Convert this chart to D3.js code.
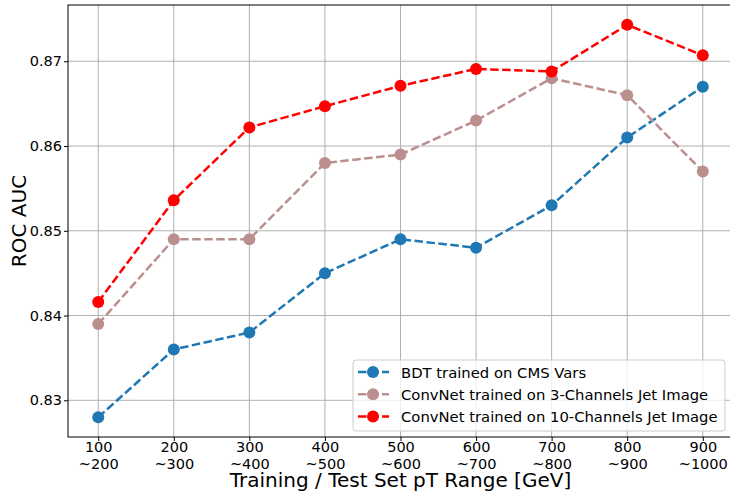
<!DOCTYPE html>
<html>
<head>
<meta charset="utf-8">
<script src="https://cdn.jsdelivr.net/npm/d3@7"></script>
<style>
  body { margin: 0; background: #fff; }
  text { font-family: "DejaVu Sans", sans-serif; }
</style>
</head>
<body>
<div id="my_dataviz"></div>
<script>
// data
var lowEdges = ["100", "200", "300", "400", "500", "600", "700", "800", "900"];
var highEdges = ["~200", "~300", "~400", "~500", "~600", "~700", "~800", "~900", "~1000"];
var bdtAuc = [0.828, 0.836, 0.838, 0.845, 0.849, 0.848, 0.853, 0.861, 0.867];
var conv3Auc = [0.839, 0.849, 0.849, 0.858, 0.859, 0.863, 0.868, 0.866, 0.857];
var conv10Auc = [0.8416, 0.8536, 0.8622, 0.8647, 0.8671, 0.8691, 0.8688, 0.8743, 0.8707];
var yTicks = [0.83, 0.84, 0.85, 0.86, 0.87];

var series = [
  {name: "BDT trained on CMS Vars", values: bdtAuc, color: "#1f77b4"},
  {name: "ConvNet trained on 3-Channels Jet Image", values: conv3Auc, color: "#bc8f8f"},
  {name: "ConvNet trained on 10-Channels Jet Image", values: conv10Auc, color: "#ff0000"}
];

var W = 730, H = 493;
var margin = {top: 5, right: -3, bottom: 56, left: 68};
var width = W - margin.left - margin.right,
    height = H - margin.top - margin.bottom;

var svg = d3.select("#my_dataviz")
  .append("svg")
    .attr("width", W)
    .attr("height", H)
  .append("g")
    .attr("transform", "translate(" + margin.left + "," + margin.top + ")");

// matplotlib style 5% margins on the index axis
var x = d3.scaleLinear().domain([-0.4, 8.4]).range([0, width]);
var y = d3.scaleLinear().domain([0.82567, 0.87664]).range([height, 0]);

// grid
svg.append("g")
  .selectAll("line")
  .data(lowEdges)
  .enter().append("line")
    .attr("x1", function(d, i) { return x(i); })
    .attr("x2", function(d, i) { return x(i); })
    .attr("y1", 0).attr("y2", height)
    .attr("stroke", "#b0b0b0").attr("stroke-width", 1);
svg.append("g")
  .selectAll("line")
  .data(yTicks)
  .enter().append("line")
    .attr("x1", 0).attr("x2", width)
    .attr("y1", function(d) { return y(d); })
    .attr("y2", function(d) { return y(d); })
    .attr("stroke", "#b0b0b0").attr("stroke-width", 1);

// y axis
var yAxis = svg.append("g")
  .call(d3.axisLeft(y).tickValues(yTicks).tickFormat(d3.format(".2f")).tickSize(4).tickPadding(2));
yAxis.select(".domain").remove();
yAxis.selectAll("text").style("font-size", "14.5px").attr("fill", "#000");

// x axis with two-line labels
var xAxis = svg.append("g")
  .attr("transform", "translate(0," + height + ")")
  .call(d3.axisBottom(x).tickValues(d3.range(lowEdges.length)).tickFormat("").tickSize(4));
xAxis.select(".domain").remove();
xAxis.selectAll(".tick").each(function(d) {
  var t = d3.select(this).append("text")
    .attr("fill", "#000")
    .attr("text-anchor", "middle")
    .style("font-size", "14.5px");
  t.append("tspan").attr("x", 0).attr("y", 15).text(lowEdges[d]);
  t.append("tspan").attr("x", 0).attr("y", 31.5).text(highEdges[d]);
});

// spines
svg.append("rect")
  .attr("width", width).attr("height", height)
  .attr("fill", "none").attr("stroke", "#000").attr("stroke-width", 1);

// lines
var line = d3.line()
  .x(function(d, i) { return x(i); })
  .y(function(d) { return y(d); });

series.forEach(function(s) {
  svg.append("path")
    .datum(s.values)
    .attr("d", line)
    .attr("fill", "none")
    .attr("stroke", s.color)
    .attr("stroke-width", 2.5)
    .attr("stroke-dasharray", "8.5,3.5");
  svg.append("g")
    .selectAll("circle")
    .data(s.values)
    .enter().append("circle")
      .attr("cx", function(d, i) { return x(i); })
      .attr("cy", function(d) { return y(d); })
      .attr("r", 6)
      .attr("fill", s.color);
});

// axis titles
svg.append("text")
  .attr("text-anchor", "middle")
  .attr("transform", "translate(" + (-42) + "," + (height / 2) + ")rotate(-90)")
  .style("font-size", "20px")
  .text("ROC AUC");
svg.append("text")
  .attr("text-anchor", "middle")
  .attr("x", width / 2)
  .attr("y", height + 50)
  .style("font-size", "20px")
  .text("Training / Test Set pT Range [GeV]");

// legend
var legend = svg.append("g")
  .attr("transform", "translate(" + (353 - margin.left) + "," + (360 - margin.top) + ")");
legend.append("rect")
  .attr("width", 372).attr("height", 71)
  .attr("rx", 3)
  .attr("fill", "#fff").attr("fill-opacity", 0.8)
  .attr("stroke", "#cccccc");
series.forEach(function(s, i) {
  var g = legend.append("g").attr("transform", "translate(0," + (12 + i * 22.3) + ")");
  g.append("line")
    .attr("x1", 5).attr("x2", 36)
    .attr("stroke", s.color).attr("stroke-width", 2.5)
    .attr("stroke-dasharray", "8.5,3.5");
  g.append("circle").attr("cx", 20).attr("r", 6).attr("fill", s.color);
  g.append("text")
    .attr("x", 48).attr("y", 5.5)
    .style("font-size", "14.8px")
    .text(s.name);
});
</script>
</body>
</html>
